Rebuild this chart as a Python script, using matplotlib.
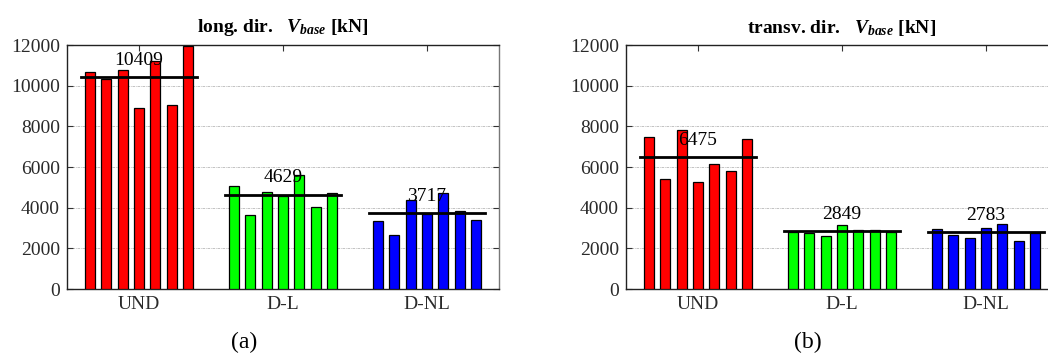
import numpy as np
import matplotlib as mlp
mlp.use('Agg')
import matplotlib.pyplot as plt

plt.rcParams['font.family'] = ['Liberation Serif', 'DejaVu Serif']
plt.rcParams['mathtext.fontset'] = 'custom'
plt.rcParams['mathtext.rm'] = 'Liberation Serif:bold'
plt.rcParams['mathtext.it'] = 'Liberation Serif:italic:bold'
plt.rcParams['mathtext.bf'] = 'Liberation Serif:bold'

groups = ['UND', 'D-L', 'D-NL']
colors = ['#ff0000', '#00ff00', '#0000ff']

# base shear for the 7 records, per model
long_und = [10670, 10320, 10770, 8890, 11190, 9060, 11963]
long_dl = [5050, 3650, 4790, 4570, 5630, 4010, 4703]
long_dnl = [3350, 2680, 4370, 3690, 4700, 3829, 3400]

trans_und = [7480, 5410, 7835, 5280, 6130, 5790, 7400]
trans_dl = [2820, 2750, 2620, 3130, 2920, 2910, 2793]
trans_dnl = [2930, 2670, 2520, 3000, 3220, 2380, 2761]

panels = [
    ('long. dir.   $V_{base}$ [kN]', [long_und, long_dl, long_dnl], '(a)'),
    ('transv. dir.   $V_{base}$ [kN]', [trans_und, trans_dl, trans_dnl], '(b)'),
]

fig = plt.figure(figsize=(10.48, 3.53), dpi=100)
W, H = 1048, 353
ax_left = [67, 626]
cap_x = [244, 808]

nrec = 7
pitch = 0.8 / nrec
bw = 0.07

for k, (title, data, cap) in enumerate(panels):
    ax = fig.add_axes([ax_left[k] / W, 64 / H, 432 / W, 244 / H])
    for g, vals in enumerate(data):
        xc = g + 1
        xs = xc + (np.arange(nrec) - (nrec - 1) / 2) * pitch
        ax.bar(xs, vals, width=bw, color=colors[g], edgecolor='black',
               linewidth=0.9, zorder=3)
        m = np.mean(vals)
        ax.plot([xc - 0.4, xc + 0.4], [m, m], color='black', lw=2.0, zorder=4)
        ax.annotate('%d' % round(m), (xc, m), xytext=(0, 9),
                    textcoords='offset points', ha='center', va='baseline',
                    fontsize=14, zorder=5)
    ax.set_xlim(0.5, 3.5)
    ax.set_ylim(0, 12000)
    ax.set_yticks(np.arange(0, 12001, 2000))
    ax.set_xticks([1, 2, 3])
    ax.set_xticklabels(groups)
    ax.tick_params(direction='in', length=4, width=0.8, top=True, right=True,
                   labelsize=14, labelcolor='#2a2a2a', color='#333333', pad=5)
    ax.yaxis.grid(True, linestyle=(0, (3, 1, 1, 1)), color='#b8b8b8', lw=0.6, zorder=0)
    for s in ax.spines.values():
        s.set_color('#222222')
        s.set_linewidth(1.0)
    ax.spines['right'].set_color('#777777')
    ax.set_title(title, fontsize=14, fontweight='bold', pad=9)
    fig.text(cap_x[k] / W, 11 / H, cap, ha='center', va='center', fontsize=17)

fig.savefig('out.png', dpi=100)
